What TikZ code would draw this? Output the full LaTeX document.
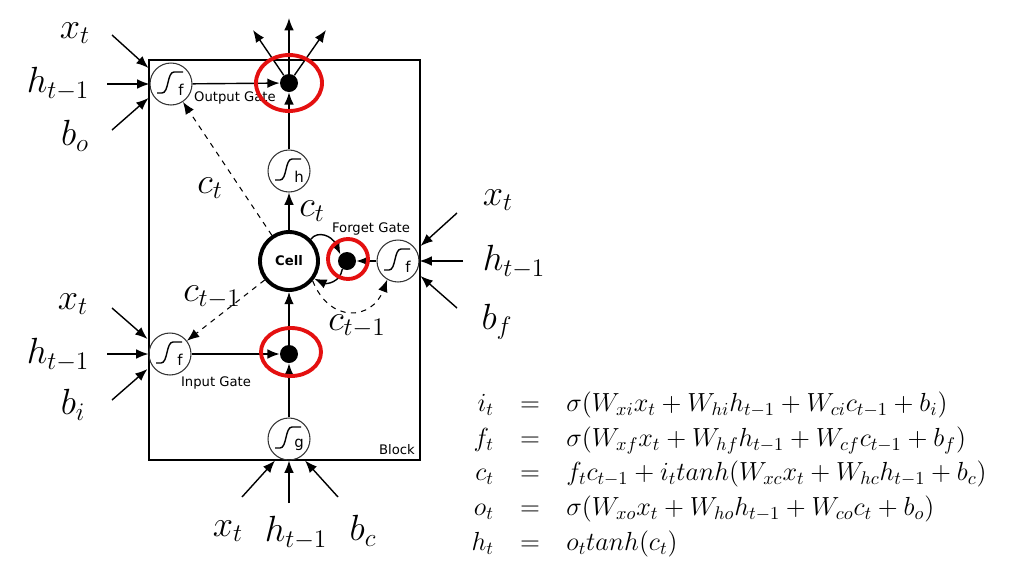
\RequirePackage{fix-cm}
\documentclass[tikz,border=0pt]{standalone}
\usepackage{amsmath}
\usepackage{fontspec}
\newfontfamily\gatefont{DejaVu Sans}
\usetikzlibrary{arrows.meta,calc}
\definecolor{markred}{RGB}{228,16,16}
\tikzset{
  flowarrow/.style={-{Latex[length=7pt,width=5.5pt]}, line width=0.8pt},
  dasharrow/.style={flowarrow, dashed, line width=0.6pt},
  gatenode/.style={circle, draw=black!80, line width=0.6pt, minimum size=0.84cm, inner sep=0pt},
  cellnode/.style={circle, draw, line width=2.2pt, minimum size=1.16cm, inner sep=0pt, font=\gatefont\fontsize{7.5}{9}\selectfont\bfseries},
  dotnode/.style={circle, fill, minimum size=0.36cm, inner sep=0pt},
  gatelabel/.style={font=\gatefont\fontsize{7.5}{9}\selectfont},
  varlabel/.style={font=\fontsize{20.74}{25}\selectfont},
  sigline/.style={line width=0.8pt},
  redmark/.style={draw=markred, line width=2.2pt}
}
% sigmoid curve inside gate #1, with letter #2
\newcommand{\sigmoid}[2]{%
  \draw[sigline] ($(#1.center)+(-14,9)$) -- ++(5,0) .. controls +(7,0) and +(-7,0) .. ++(12,-21) -- ++(9,0);
  \node[gatelabel, font=\gatefont\fontsize{8.5}{9}\selectfont] (#1-l) at ($(#1.center)+(10,6)$) {#2};
}

\begin{document}
\begin{tikzpicture}[x=0.02cm, y=-0.02cm]
  \useasboundingbox (0,0) rectangle (1021,579);
  % block
  \draw[line width=0.8pt] (149,60) rectangle (420,460);
  \node[gatelabel] (blk) at (397,450) {Block};

  % gates and cell
  \node[gatenode] (og) at (171,84) {};
  \node[dotnode] (od) at (289,83) {};
  \node[gatenode] (oh) at (289,171) {};
  \node[cellnode] (cell) at (289,261) {Cell};
  \node[dotnode] (fd) at (347,261) {};
  \node[gatenode] (fg) at (398,261) {};
  \node[gatenode] (ig) at (170,354) {};
  \node[dotnode] (id) at (289,354) {};
  \node[gatenode] (gg) at (289,439) {};
  \sigmoid{og}{f}
  \sigmoid{oh}{h}
  \sigmoid{fg}{f}
  \sigmoid{ig}{f}
  \sigmoid{gg}{g}

  \node[gatelabel] (ogl) at (235,98) {Output Gate};
  \node[gatelabel] (fgl) at (371,229) {Forget Gate};
  \node[gatelabel] (igl) at (216,383) {Input Gate};

  % inner connectors
  \draw[flowarrow] (og) -- (od);
  \draw[flowarrow] (oh) -- (od);
  \draw[flowarrow] (cell) -- (oh);
  \draw[flowarrow] (id) -- (cell);
  \draw[flowarrow] (gg) -- (id);
  \draw[flowarrow] (ig) -- (id);
  \draw[flowarrow] (fg) -- (fd);
  \draw[flowarrow] (cell.45) .. controls (318,230) and (332,236) .. (fd.135);
  \draw[flowarrow] (fd.-120) .. controls (340,283) and (326,284) .. (cell.-35);
  \draw[dasharrow] (cell) -- (og);
  \draw[dasharrow] (cell) -- (ig);
  \draw[dasharrow] (cell.-40) .. controls (330,324) and (372,320) .. (fg.-120);

  \node[varlabel] (lct1) at (312,211) {$c_t$};
  \node[varlabel] (lct2) at (210,188) {$c_t$};
  \node[varlabel] (lcp1) at (212,297) {$c_{t-1}$};
  \node[varlabel] (lcp2) at (357,326) {$c_{t-1}$};

  % outputs
  \coordinate (out1) at (253,30);
  \coordinate (out2) at (289,18);
  \coordinate (out3) at (326,30);
  \draw[flowarrow] (od) -- (out1);
  \draw[flowarrow] (od) -- (out2);
  \draw[flowarrow] (od) -- (out3);

  % output gate inputs
  \node[varlabel] (oxl) at (75,33) {$x_t$};
  \node[varlabel] (ohl) at (58,84) {$h_{t-1}$};
  \node[varlabel] (obl) at (75,136) {$b_o$};
  \coordinate (oxs) at (112,35);
  \coordinate (ohs) at (107,84);
  \coordinate (obs) at (112,130);
  \draw[flowarrow] (oxs) -- ($(og.west)+(-1,-16)$);
  \draw[flowarrow] (ohs) -- (og.west);
  \draw[flowarrow] (obs) -- ($(og.west)+(-1,14)$);

  % input gate inputs
  \node[varlabel] (ixl) at (73,304) {$x_t$};
  \node[varlabel] (ihl) at (58,355) {$h_{t-1}$};
  \node[varlabel] (ibl) at (73,405) {$b_i$};
  \coordinate (ixs) at (112,308);
  \coordinate (ihs) at (107,354);
  \coordinate (ibs) at (112,400);
  \draw[flowarrow] (ixs) -- ($(ig.west)+(-1,-15)$);
  \draw[flowarrow] (ihs) -- (ig.west);
  \draw[flowarrow] (ibs) -- ($(ig.west)+(-1,15)$);

  % forget gate inputs
  \node[varlabel] (fxl) at (498,200) {$x_t$};
  \node[varlabel] (fhl) at (514,262) {$h_{t-1}$};
  \node[varlabel] (fbl) at (497,322) {$b_f$};
  \coordinate (fxs) at (457,213);
  \coordinate (fhs) at (463,261);
  \coordinate (fbs) at (457,308);
  \draw[flowarrow] (fxs) -- ($(fg.east)+(1,-15)$);
  \draw[flowarrow] (fhs) -- (fg.east);
  \draw[flowarrow] (fbs) -- ($(fg.east)+(1,15)$);

  % cell input
  \node[varlabel] (gxl) at (228,531) {$x_t$};
  \node[varlabel] (ghl) at (296,533) {$h_{t-1}$};
  \node[varlabel] (gbl) at (363,531) {$b_c$};
  \coordinate (gxs) at (242,497);
  \coordinate (ghs) at (289,503);
  \coordinate (gbs) at (338,497);
  \draw[flowarrow] (gxs) -- ($(gg.south)+(-14,0)$);
  \draw[flowarrow] (ghs) -- (gg.south);
  \draw[flowarrow] (gbs) -- ($(gg.south)+(16,0)$);

  % highlights
  \draw[redmark] (od) ellipse [x radius=33, y radius=28];
  \draw[redmark] ($(fd)+(1,-2)$) circle [radius=20];
  \draw[redmark] ($(id)+(2,-2)$) ellipse [x radius=30, y radius=24];

  % equations
  \node[anchor=west, inner sep=0pt, font=\fontsize{14.9}{17.9}\selectfont] (eqs) at (458,474)
    {\setlength{\arraycolsep}{7.5pt}\renewcommand{\arraystretch}{1.1}%
     $\begin{array}{rcl}
      i_t & = & \sigma(W_{xi}x_t + W_{hi}h_{t-1} + W_{ci}c_{t-1} + b_i)\\
      f_t & = & \sigma(W_{xf}x_t + W_{hf}h_{t-1} + W_{cf}c_{t-1} + b_f)\\
      c_t & = & f_tc_{t-1} + i_ttanh(W_{xc}x_t + W_{hc}h_{t-1} + b_c)\\
      o_t & = & \sigma(W_{xo}x_t + W_{ho}h_{t-1} + W_{co}c_t + b_o)\\
      h_t & = & o_ttanh(c_t)
     \end{array}$};
\end{tikzpicture}
\end{document}
